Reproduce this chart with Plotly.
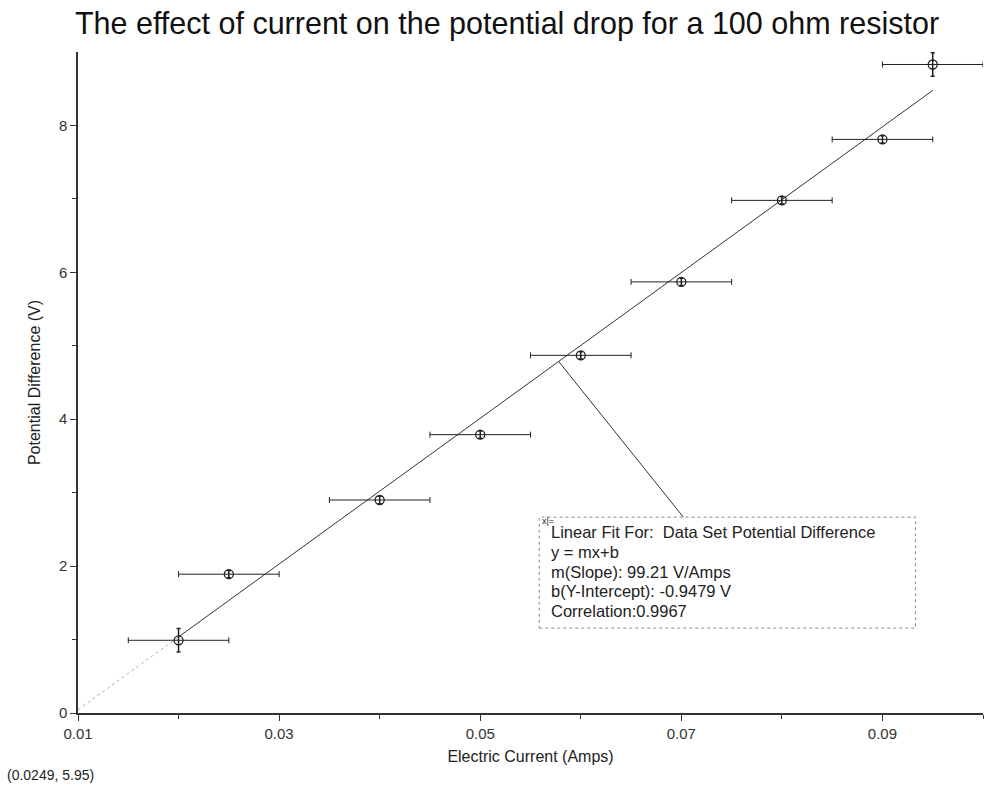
import plotly.graph_objects as go

# ---- data ----
current = [0.020, 0.025, 0.040, 0.050, 0.060, 0.070, 0.080, 0.090, 0.095]
voltage = [0.99, 1.89, 2.90, 3.79, 4.87, 5.87, 6.98, 7.81, 8.83]
current_err = [0.005, 0.005, 0.005, 0.005, 0.005, 0.005, 0.005, 0.005, 0.005]
voltage_err = [0.16, 0.05, 0.05, 0.05, 0.05, 0.05, 0.05, 0.05, 0.16]

slope = 99.21
intercept = -0.9479
fit_x = [0.020, 0.095]
fit_ext_x = [0.010, 0.020]

x_ticks_major = [0.01, 0.03, 0.05, 0.07, 0.09]
x_tick_labels = ["0.01", "0.03", "0.05", "0.07", "0.09"]
x_ticks_minor = [0.02, 0.04, 0.06, 0.08, 0.10]
y_ticks_major = [0, 2, 4, 6, 8]
y_ticks_minor = [1, 3, 5, 7]

fit_text = [
    "Linear Fit For:  Data Set Potential Difference",
    "y = mx+b",
    "m(Slope): 99.21 V/Amps",
    "b(Y-Intercept): -0.9479 V",
    "Correlation:0.9967",
]

FONT = "Liberation Sans, Arial, sans-serif"
INK = "#222222"

fig = go.Figure()

# faint extension of fit line
fig.add_trace(go.Scatter(
    x=fit_ext_x, y=[slope * v + intercept for v in fit_ext_x],
    mode="lines", line=dict(color="#b0b0b0", width=1, dash="dot"),
    showlegend=False, hoverinfo="skip"))

# fit line
fig.add_trace(go.Scatter(
    x=fit_x, y=[slope * v + intercept for v in fit_x],
    mode="lines", line=dict(color="#333333", width=1),
    showlegend=False, hoverinfo="skip"))

# data with error bars
fig.add_trace(go.Scatter(
    x=current, y=voltage, mode="markers",
    marker=dict(symbol="circle-open", size=9, color=INK, line=dict(width=1.3)),
    error_x=dict(type="data", array=current_err, color=INK, thickness=1, width=3),
    error_y=dict(type="data", array=voltage_err, color=INK, thickness=1.5, width=2),
    showlegend=False))

# leader line from fit line to box
fig.add_shape(type="line", xref="x", yref="y",
              x0=0.0578, y0=slope * 0.0578 + intercept, x1=0.0702, y1=2.667,
              line=dict(color="#333333", width=1))

# annotation box
fig.add_shape(type="rect", xref="x", yref="y",
              x0=0.05587, x1=0.09328, y0=1.156, y1=2.667,
              line=dict(color="#888888", width=1, dash="dot"),
              fillcolor="rgba(255,255,255,1)", layer="above")

fig.add_annotation(x=0.0559, y=2.62, xref="x", yref="y", text="x|=",
                   showarrow=False, xanchor="left", yanchor="middle",
                   font=dict(family=FONT, size=9, color=INK))

for i, line in enumerate(fit_text):
    fig.add_annotation(x=0.0568, y=2.46 - i * 0.268, xref="x", yref="y",
                       text=line, showarrow=False, xanchor="left", yanchor="middle",
                       font=dict(family=FONT, size=16.5, color=INK))

# bottom-left coordinate readout
fig.add_annotation(x=-0.0808, y=-0.094, xref="paper", yref="paper",
                   text="(0.0249, 5.95)",
                   showarrow=False, xanchor="left", yanchor="middle",
                   font=dict(family=FONT, size=14, color=INK))

fig.update_layout(
    width=1000, height=797,
    margin=dict(l=78, r=17, t=52, b=84),
    paper_bgcolor="white", plot_bgcolor="white",
    title=dict(text="The effect of current on the potential drop for a 100 ohm resistor",
               x=0.507, xanchor="center", y=0.971, yanchor="middle",
               font=dict(family=FONT, size=30.5, color="#111111")),
    font=dict(family=FONT, color=INK),
)

fig.update_xaxes(
    range=[0.01, 0.10], showgrid=False, zeroline=False,
    showline=True, linecolor="#333333", linewidth=1.5,
    tickmode="array", tickvals=x_ticks_major, ticktext=x_tick_labels,
    ticks="outside", ticklen=6, tickcolor="#333333",
    minor=dict(tickmode="array", tickvals=x_ticks_minor, ticks="outside",
               ticklen=4, tickcolor="#333333", showgrid=False),
    tickfont=dict(family=FONT, size=15, color="#333333"),
    title=dict(text="Electric Current (Amps)", standoff=10,
               font=dict(family=FONT, size=16, color=INK)),
)
fig.update_yaxes(
    range=[0, 9.0], showgrid=False, zeroline=False,
    showline=True, linecolor="#333333", linewidth=1.5,
    tickmode="array", tickvals=y_ticks_major,
    ticks="outside", ticklen=6, tickcolor="#333333",
    minor=dict(tickmode="array", tickvals=y_ticks_minor, ticks="outside",
               ticklen=4, tickcolor="#333333", showgrid=False),
    tickfont=dict(family=FONT, size=15, color="#333333"),
    title=dict(text="Potential Difference (V)", standoff=14,
               font=dict(family=FONT, size=16, color=INK)),
)

fig.write_html("out.html")
